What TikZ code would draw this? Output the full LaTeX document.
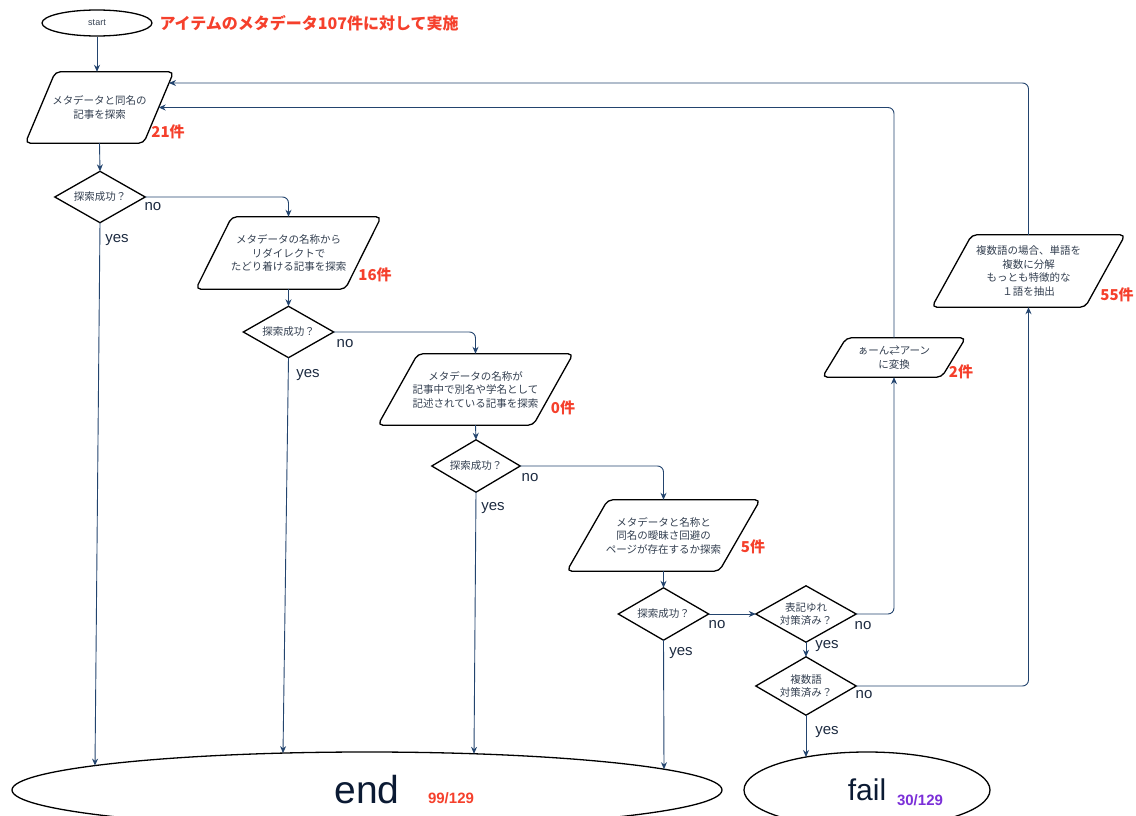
\documentclass[tikz,border=0pt]{standalone}
\usepackage{fontspec}
\setmainfont{Liberation Sans}
\newfontfamily\jp{Noto Sans CJK JP}
\usetikzlibrary{arrows.meta,calc,shapes.geometric}
\definecolor{lnc}{HTML}{23446E}
\definecolor{txc}{HTML}{333F50}
\definecolor{lblc}{HTML}{1C2A40}
\definecolor{bigc}{HTML}{0B1A33}
\definecolor{redc}{HTML}{F5402C}
\definecolor{purc}{HTML}{7B2FD8}
\newcommand\drawpara[2]{\draw[psh] ([xshift=#2]#1.north west) -- ([xshift=#2]#1.north east) -- ([xshift=-#2]#1.south east) -- ([xshift=-#2]#1.south west) -- cycle;}
\newcommand\drawdia[1]{\draw[dsh] (#1.north) -- (#1.east) -- (#1.south) -- (#1.west) -- cycle;}
\begin{document}
\begin{tikzpicture}[x=1pt,y=-1pt,
  conn/.style={draw=lnc, line width=0.9pt, -{Stealth[length=7pt,width=6pt]}},
  rnd/.style={rounded corners=6pt},
  txt/.style={font=\jp\fontsize{10.5}{13.5}\selectfont, text=txc, align=center},
  pbody/.style={txt, rectangle, inner sep=0pt},
  dbox/.style={txt, rectangle, inner sep=0pt},
  psh/.style={draw=black, line width=1.3pt, rounded corners=5pt},
  dsh/.style={draw=black, line width=1.3pt},
  ell/.style={ellipse, draw=black, line width=1.3pt, inner sep=0pt},
  cnt/.style={font=\jp\bfseries\fontsize{15}{17}\selectfont, text=redc},
  lbl/.style={font=\fontsize{15}{17}\selectfont, text=lblc}]
\useasboundingbox (0,0) rectangle (1136,816);

% start
\node[ell, minimum width=110pt, minimum height=26pt, font=\fontsize{9}{10}\selectfont, text=txc] (startn) at (97,23) {start};
\node[anchor=west, font=\jp\bfseries\fontsize{16}{18}\selectfont, text=redc] (title) at (156,23) {アイテムのメタデータ107件に対して実施};

% parallelograms
\node[pbody, minimum width=118pt, minimum height=71pt] (p1) at (99.5,107.5) {メタデータと同名の\\記事を探索};
\drawpara{p1}{15pt}
\node[pbody, minimum width=149pt, minimum height=72pt] (p2) at (288.5,253) {メタデータの名称から\\リダイレクトで\\たどり着ける記事を探索};
\drawpara{p2}{18pt}
\node[pbody, minimum width=155pt, minimum height=71pt] (p3) at (475.5,389.5) {メタデータの名称が\\記事中で別名や学名として\\記述されている記事を探索};
\drawpara{p3}{20pt}
\node[pbody, minimum width=152pt, minimum height=71pt] (p4) at (663.5,535.5) {メタデータと名称と\\同名の曖昧さ回避の\\ページが存在するか探索};
\drawpara{p4}{20.5pt}
\node[pbody, minimum width=119pt, minimum height=39pt] (p5) at (894,357.5) {ぁーん⇄アーン\\に変換};
\drawpara{p5}{12pt}
\node[pbody, minimum width=153pt, minimum height=72pt] (p6) at (1028.5,271) {複数語の場合、単語を\\複数に分解\\もっとも特徴的な\\１語を抽出};
\drawpara{p6}{20pt}

% diamonds
\node[dbox, minimum width=90pt, minimum height=51pt] (d1) at (100,197) {探索成功？};
\drawdia{d1}
\node[dbox, minimum width=90pt, minimum height=51pt] (d2) at (288.5,332) {探索成功？};
\drawdia{d2}
\node[dbox, minimum width=88pt, minimum height=52pt] (d3) at (476,466) {探索成功？};
\drawdia{d3}
\node[dbox, minimum width=90pt, minimum height=52pt] (d4) at (663.5,614) {探索成功？};
\drawdia{d4}
\node[dbox, minimum width=100pt, minimum height=56pt] (d5) at (806,614) {表記ゆれ\\対策済み？};
\drawdia{d5}
\node[dbox, minimum width=100pt, minimum height=58pt] (d6) at (806,686) {複数語\\対策済み？};
\drawdia{d6}

% terminals
\node[ell, minimum width=710pt, minimum height=76pt, font=\fontsize{39}{40}\selectfont, text=bigc] (endn) at (367,790) {end};
\node[ell, minimum width=246pt, minimum height=76pt, font=\fontsize{30}{32}\selectfont, text=bigc] (fail) at (867,790) {fail};
\node[font=\bfseries\fontsize{15}{17}\selectfont, text=redc] (endcnt) at (451,798) {99/129};
\node[font=\bfseries\fontsize{15}{17}\selectfont, text=purc] (failcnt) at (920,800) {30/129};

% points on the terminal borders
\coordinate (e1) at ($(endn.center)+(-272,-24.4)$);
\coordinate (e2) at ($(endn.center)+(-84,-36.9)$);
\coordinate (e3) at ($(endn.center)+(107,-36.2)$);
\coordinate (e4) at ($(endn.center)+(297,-20.8)$);
\coordinate (ef) at ($(fail.center)+(-61,-33)$);

% counts
\node[cnt] (c1) at (168,132) {21件};
\node[cnt] (c2) at (375,275) {16件};
\node[cnt] (c3) at (563,408) {0件};
\node[cnt] (c4) at (753,547) {5件};
\node[cnt] (c5) at (961,372) {2件};
\node[cnt] (c6) at (1117,295) {55件};

% connectors
\draw[conn] (startn.south) -- (startn.south |- p1.north);
\draw[conn] (p1.south) -- (d1.north);
\draw[conn, rnd] (d1.east) -| (p2.north);
\draw[conn] (d1.south) -- (e1);
\draw[conn] (p2.south) -- (d2.north);
\draw[conn, rnd] (d2.east) -| (p3.north);
\draw[conn] (d2.south) -- (e2);
\draw[conn] (p3.south) -- (d3.north);
\draw[conn, rnd] (d3.east) -| (p4.north);
\draw[conn] (d3.south) -- (e3);
\draw[conn] (p4.south) -- (d4.north);
\draw[conn] (d4.east) -- (d5.west);
\draw[conn] (d4.south) -- (e4);
\draw[conn, rnd] (d5.east) -| (p5.south);
\draw[conn] (d5.south) -- (d6.north);
\draw[conn, rnd] (d6.east) -| (p6.south);
\draw[conn] (d6.south) -- (ef);
\draw[conn, rnd] (p5.north) |- (p1.east);
\coordinate (p1r) at ($(p1.east)+(10.3,-24.5)$);
\draw[conn, rnd] (p6.north) |- (p1r);

% branch labels
\node[lbl] (n1) at (153,207) {no};
\node[lbl] (y1) at (117,240) {yes};
\node[lbl] (n2) at (345,344) {no};
\node[lbl] (y2) at (308,375) {yes};
\node[lbl] (n3) at (530,478) {no};
\node[lbl] (y3) at (493,508) {yes};
\node[lbl] (n4) at (717,625) {no};
\node[lbl] (y4) at (681,653) {yes};
\node[lbl] (n5) at (863,626) {no};
\node[lbl] (y5) at (827,646) {yes};
\node[lbl] (n6) at (864,695) {no};
\node[lbl] (y6) at (827,732) {yes};
\end{tikzpicture}
\end{document}
